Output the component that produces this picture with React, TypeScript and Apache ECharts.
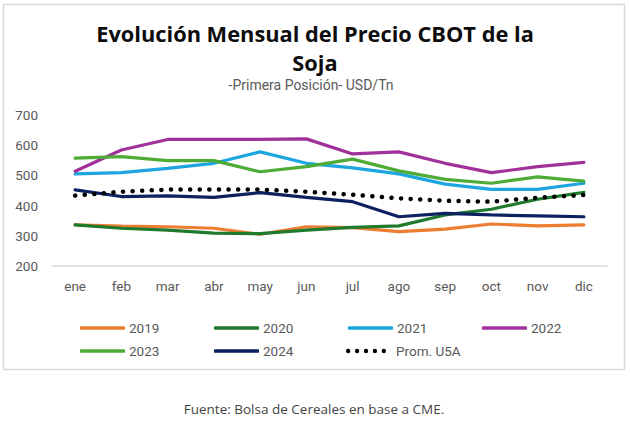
import React, { useEffect, useRef } from "react";
import * as echarts from "echarts";

const months = ["ene", "feb", "mar", "abr", "may", "jun", "jul", "ago", "sep", "oct", "nov", "dic"];
const s2019 = [336, 332, 330, 325, 305, 330, 327, 314, 322, 339, 333, 336];
const s2020 = [336, 325, 319, 309, 307, 319, 328, 333, 369, 388, 421, 444];
const s2021 = [505, 509, 523, 540, 578, 540, 525, 505, 471, 454, 454, 474];
const s2022 = [514, 584, 619, 619, 619, 621, 571, 578, 540, 509, 529, 543];
const s2023 = [557, 562, 549, 549, 512, 529, 554, 515, 487, 474, 495, 481];
const s2024 = [452, 430, 432, 427, 443, 427, 413, 363, 374, 369, 366, 363];
const sProm = [433, 446, 453, 453, 453, 446, 436, 424, 416, 413, 426, 435];
const yTicks = { min: 200, max: 700, interval: 100 };

const seriesDefs = [
  { name: "2019", data: s2019, color: "#ED7D31" },
  { name: "2020", data: s2020, color: "#1F7A2E" },
  { name: "2021", data: s2021, color: "#1DA5DF" },
  { name: "2022", data: s2022, color: "#A0309A" },
  { name: "2023", data: s2023, color: "#4EAB36" },
  { name: "2024", data: s2024, color: "#0D2160" },
  { name: "Prom. U5A", data: sProm, color: "#000000", dotted: true },
];

const legendPos = [
  { left: 80, top: 321 },
  { left: 214, top: 321 },
  { left: 348, top: 321 },
  { left: 482, top: 321 },
  { left: 80, top: 344 },
  { left: 214, top: 344 },
  { left: 346, top: 344 },
];

const dotsIcon =
  "path://M0,2.2a2.2,2.2 0 1,0 4.4,0a2.2,2.2 0 1,0 -4.4,0Z" +
  "M9,2.2a2.2,2.2 0 1,0 4.4,0a2.2,2.2 0 1,0 -4.4,0Z" +
  "M18,2.2a2.2,2.2 0 1,0 4.4,0a2.2,2.2 0 1,0 -4.4,0Z" +
  "M27,2.2a2.2,2.2 0 1,0 4.4,0a2.2,2.2 0 1,0 -4.4,0Z" +
  "M36,2.2a2.2,2.2 0 1,0 4.4,0a2.2,2.2 0 1,0 -4.4,0Z";

export default function App() {
  const ref = useRef<HTMLDivElement>(null);
  useEffect(() => {
    if (!ref.current) return;
    const chart = echarts.init(ref.current, null, { renderer: "svg" });
    chart.setOption({
      animation: false,
      backgroundColor: "#ffffff",
      textStyle: { fontFamily: "Roboto" },
      grid: { left: 52, right: 23, top: 115, bottom: 156 },
      xAxis: {
        type: "category",
        data: months,
        boundaryGap: true,
        axisLine: { lineStyle: { color: "#d9d9d9", width: 1.5 } },
        axisTick: { show: false },
        axisLabel: { color: "#595959", fontSize: 13.5, margin: 13, fontFamily: "Roboto" },
      },
      yAxis: {
        type: "value",
        min: yTicks.min,
        max: yTicks.max,
        interval: yTicks.interval,
        axisLine: { show: false },
        axisTick: { show: false },
        splitLine: { show: false },
        axisLabel: { color: "#595959", fontSize: 13.5, margin: 14, fontFamily: "Roboto" },
      },
      legend: seriesDefs.map((s, i) => ({
        data: [s.name],
        left: legendPos[i].left,
        top: legendPos[i].top,
        itemWidth: s.dotted ? 40 : 45,
        itemHeight: s.dotted ? 4.4 : 3.5,
        itemGap: 4,
        padding: 0,
        icon: s.dotted ? dotsIcon : "roundRect",
        textStyle: {
          color: "#595959",
          fontSize: 13.5,
          padding: s.dotted ? [0, 0, 0, 5] : [0, 0, 0, -1],
          fontFamily: "Roboto",
        },
      })),
      series: seriesDefs.map((s) => ({
        name: s.name,
        type: "line",
        data: s.data,
        symbol: "none",
        z: s.dotted ? 5 : 3,
        itemStyle: { color: s.color },
        lineStyle: s.dotted
          ? { color: s.color, width: 4.5, type: [0.1, 9.5], cap: "round" }
          : { color: s.color, width: 3.2, cap: "round" },
      })),
      graphic: [
        {
          type: "rect",
          shape: { x: 3.5, y: 4.5, width: 621, height: 365 },
          style: { fill: "none", stroke: "#d9d9d9", lineWidth: 1.5 },
          z: -1,
        },
        {
          type: "text",
          x: 315,
          y: 33,
          style: {
            text: "Evolución Mensual del Precio CBOT de la",
            fontFamily: "Open Sans",
            fontWeight: "bold",
            fontSize: 21.8,
            fill: "#0d0d0d",
            align: "center",
            verticalAlign: "middle",
          },
        },
        {
          type: "text",
          x: 315,
          y: 62,
          style: {
            text: "Soja",
            fontFamily: "Open Sans",
            fontWeight: "bold",
            fontSize: 21.8,
            fill: "#0d0d0d",
            align: "center",
            verticalAlign: "middle",
          },
        },
        {
          type: "text",
          x: 311,
          y: 85,
          style: {
            text: "-Primera Posición- USD/Tn",
            fontFamily: "Roboto",
            fontSize: 14,
            fill: "#595959",
            align: "center",
            verticalAlign: "middle",
          },
        },
        {
          type: "text",
          x: 314,
          y: 409,
          style: {
            text: "Fuente: Bolsa de Cereales en base a CME.",
            fontFamily: "Open Sans",
            fontSize: 13.5,
            fill: "#444444",
            align: "center",
            verticalAlign: "middle",
          },
        },
      ],
    });
    return () => chart.dispose();
  }, []);
  return (
    <div
      ref={ref}
      style={{ position: "absolute", left: 0, top: 0, width: 630, height: 422 }}
    />
  );
}
